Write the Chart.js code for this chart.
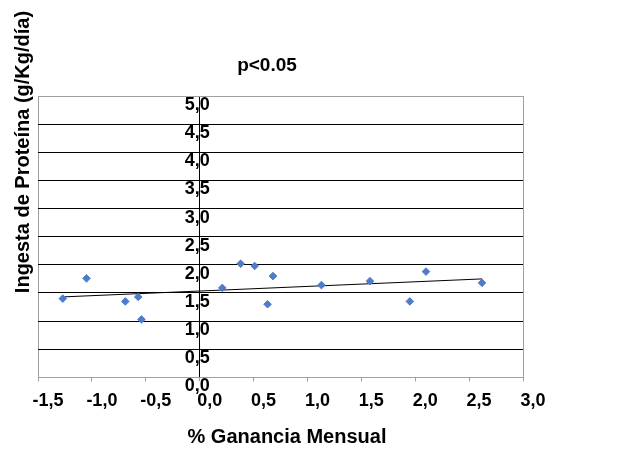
<!DOCTYPE html>
<html>
<head>
<meta charset="utf-8">
<script src="https://cdn.jsdelivr.net/npm/chart.js@4/dist/chart.umd.min.js"></script>
<style>
  html, body { margin: 0; padding: 0; background: #ffffff; }
  #wrap { width: 627px; height: 456px; position: relative; }
</style>
</head>
<body>
<div id="wrap"><canvas id="chart"></canvas></div>
<script>
// Data
const gananciaX = [-1.27, -1.05, -0.69, -0.57, -0.54, 0.21, 0.38, 0.51, 0.68, 0.63, 1.13, 1.58, 1.95, 2.1, 2.62];
const proteinaY = [1.40, 1.76, 1.35, 1.43, 1.03, 1.59, 2.02, 1.98, 1.80, 1.30, 1.64, 1.71, 1.35, 1.88, 1.68];
const trendX = [-1.27, 2.62];
const trendY = [1.43, 1.75];

const titleText = "p<0.05";
const xTitle = "% Ganancia Mensual";
const yTitle = "Ingesta de Proteína (g/Kg/día)";

const FONT = "'Liberation Sans', Arial, sans-serif";

// Titles drawn as canvas text at fixed spots
const textPlugin = {
  id: "texts",
  afterDraw(chart) {
    const ctx = chart.ctx;
    ctx.save();
    ctx.fillStyle = "#000";
    ctx.textAlign = "center";
    ctx.textBaseline = "middle";
    ctx.font = "bold 19px " + FONT;
    ctx.fillText(titleText, 267, 66);
    ctx.font = "bold 20px " + FONT;
    ctx.fillText(xTitle, 287, 437);
    ctx.translate(23, 152);
    ctx.rotate(-Math.PI / 2);
    ctx.font = "bold 20px " + FONT;
    ctx.fillText(yTitle, 0, 0);
    ctx.restore();
  }
};

const fmt = v => Number(v).toFixed(1).replace(".", ",");

new Chart(document.getElementById("chart"), {
  type: "scatter",
  data: {
    datasets: [
      {
        data: gananciaX.map((x, i) => ({ x: x, y: proteinaY[i] })),
        backgroundColor: "#4f7bc9",
        borderColor: "#4f7bc9",
        pointStyle: "rectRot",
        pointRadius: 3.8,
        pointHoverRadius: 3.8
      },
      {
        type: "line",
        data: trendX.map((x, i) => ({ x: x, y: trendY[i] })),
        borderColor: "#000",
        borderWidth: 1,
        pointRadius: 0,
        fill: false
      }
    ]
  },
  options: {
    responsive: true,
    maintainAspectRatio: false,
    animation: false,
    layout: { padding: { left: 38, right: 104, top: 96, bottom: 35 } },
    plugins: {
      legend: { display: false },
      tooltip: { enabled: false }
    },
    scales: {
      x: {
        type: "linear",
        min: -1.5,
        max: 3,
        grid: {
          // outer frame in grey, the x = 0 axis line in black
          color: c => {
            if (c.index === 0 || c.index === 9) return "#a0a0a0";
            if (c.tick && c.tick.value === 0) return "#000";
            return "rgba(0,0,0,0)";
          },
          tickColor: "#a0a0a0",
          tickLength: 4
        },
        border: { color: "#a0a0a0" },
        ticks: {
          stepSize: 0.5,
          padding: 9,
          labelOffset: 10,
          color: "#000",
          font: { family: FONT, size: 18, weight: "bold" },
          callback: v => fmt(v)
        }
      },
      y: {
        type: "linear",
        // labels sit a little right of the axis line, as in the source
        position: { x: 0.093 },
        min: 0,
        max: 5,
        grid: {
          color: c => (c.tick && (c.tick.value === 0 || c.tick.value === 5)) ? "#a0a0a0" : "#000",
          drawTicks: false
        },
        border: { display: false },
        ticks: {
          stepSize: 0.5,
          labelOffset: 9,
          color: "#000",
          font: { family: FONT, size: 18, weight: "bold" },
          callback: v => fmt(v)
        }
      }
    }
  },
  plugins: [textPlugin]
});
</script>
</body>
</html>
